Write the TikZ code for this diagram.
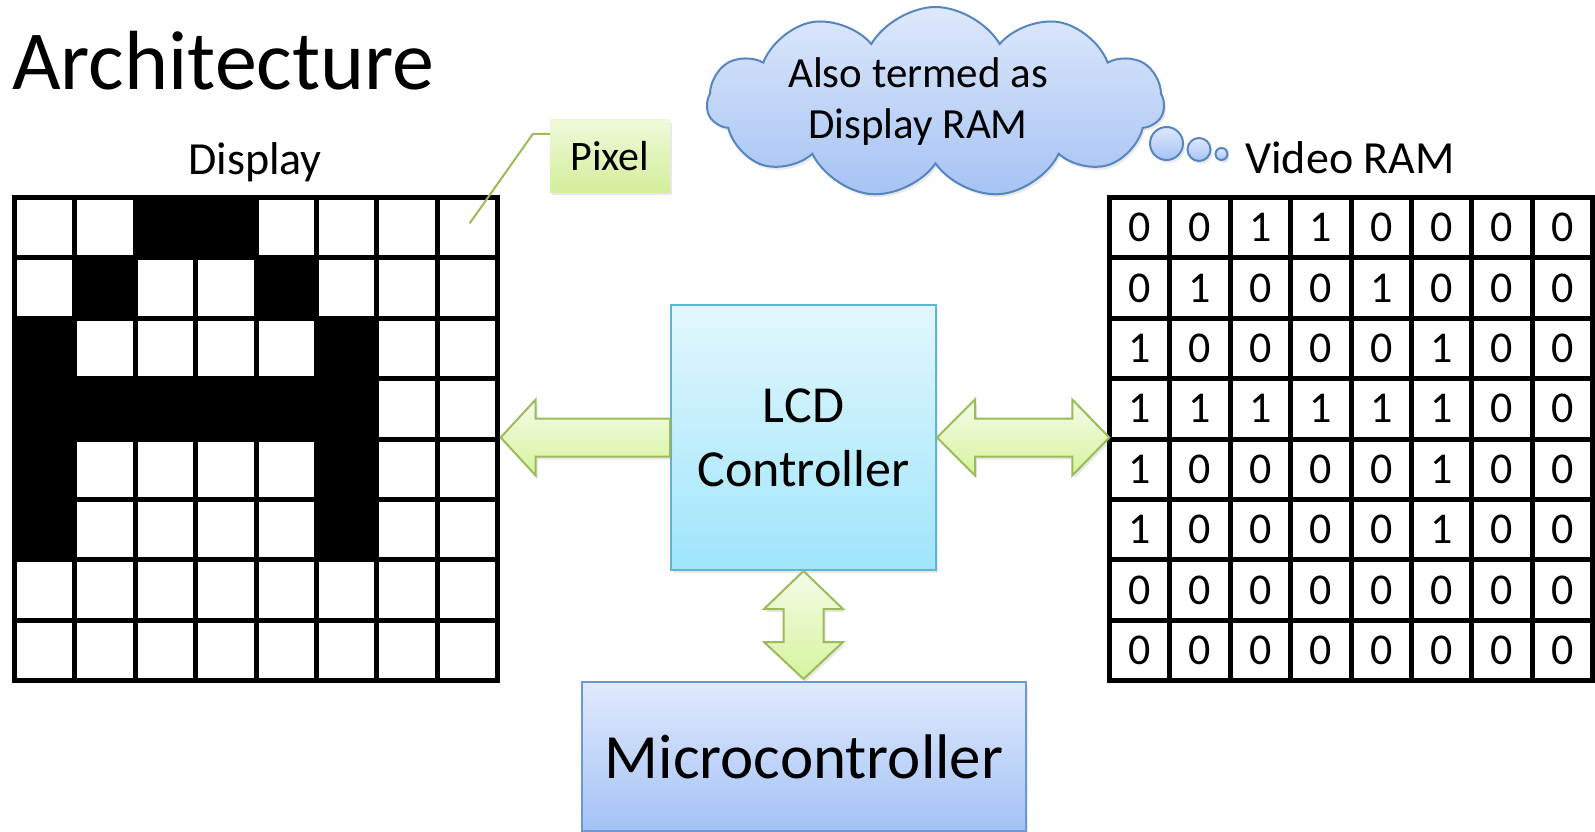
\documentclass[tikz,border=0pt]{standalone}
\usepackage{fontspec}
\setmainfont{Carlito}
\usetikzlibrary{shapes.symbols,calc,shadows}
\definecolor{lcdtop}{HTML}{E3F7FD}
\definecolor{lcdbot}{HTML}{9FE5FB}
\definecolor{lcdline}{HTML}{5BB7D4}
\definecolor{mctop}{HTML}{E0EAFC}
\definecolor{mcbot}{HTML}{A4C2F6}
\definecolor{mcline}{HTML}{6F97D3}
\definecolor{artop}{HTML}{F5FBE9}
\definecolor{arbot}{HTML}{D6F49C}
\definecolor{arline}{HTML}{9BBB59}
\definecolor{cltop}{HTML}{DDE8FB}
\definecolor{clbot}{HTML}{A6C3F4}
\definecolor{clline}{HTML}{5686C2}
\definecolor{pxtop}{HTML}{EFF9D9}
\definecolor{pxbot}{HTML}{D4EE9C}
\tikzset{
  softshadow/.style={drop shadow={opacity=0.18, shadow xshift=2pt, shadow yshift=-3pt}},
  gridline/.style={line width=5pt, line cap=rect, black},
  digit/.style={inner sep=0pt, font=\fontsize{44}{48}\selectfont},
  blockarrow/.style={draw=arline, line width=2pt, line join=miter, top color=artop, bottom color=arbot, softshadow},
  lcdbox/.style={draw=lcdline, line width=2pt, top color=lcdtop, bottom color=lcdbot, softshadow,
     minimum width=265pt, minimum height=265pt, inner sep=0pt, align=center, font=\fontsize{52}{64}\selectfont},
  mcbox/.style={draw=mcline, line width=2pt, top color=mctop, bottom color=mcbot, softshadow,
     minimum width=444pt, minimum height=149pt, inner sep=0pt, font=\fontsize{63}{70}\selectfont},
  pixbox/.style={top color=pxtop, bottom color=pxbot, softshadow, minimum width=120pt, minimum height=72pt,
     inner sep=0pt, font=\fontsize{42}{48}\selectfont},
  cloudbox/.style={cloud, cloud puffs=11, cloud puff arc=120, aspect=2.4, minimum width=457pt, minimum height=191pt,
     inner sep=0pt, draw=clline, line width=2pt, top color=cltop, bottom color=clbot, softshadow},
  bubble/.style={circle, inner sep=0pt, draw=clline, line width=2pt, top color=cltop, bottom color=clbot, softshadow},
  label/.style={inner sep=0pt, font=\fontsize{46}{50}\selectfont},
}
\begin{document}
\begin{tikzpicture}[x=1pt,y=-1pt]
\useasboundingbox (0,0) rectangle (1595,832);

% title
\node[inner sep=0pt, anchor=base west, font=\fontsize{84}{100}\selectfont] (title) at (12,90) {Architecture};

% display grid
\node[minimum width=483pt, minimum height=483pt, inner sep=0pt] (disp) at (256,439) {};
\foreach \r/\c in {0/2,0/3,1/1,1/4,2/0,2/5,3/0,3/1,3/2,3/3,3/4,3/5,4/0,4/5,5/0,5/5}
  \fill ({14.5+\c*60.375},{197.5+\r*60.375}) rectangle ++(60.375,60.375);
\foreach \i in {0,...,8} {
  \draw[gridline] ({14.5+\i*60.375},197.5) -- ({14.5+\i*60.375},680.5);
  \draw[gridline] (14.5,{197.5+\i*60.375}) -- (497.5,{197.5+\i*60.375});
}
\node[label, anchor=base] (displbl) at (255,175) {Display};

% video RAM grid
\node[minimum width=483pt, minimum height=483pt, inner sep=0pt] (vram) at (1351,439) {};
\foreach \i in {0,...,8} {
  \draw[gridline] ({1109.5+\i*60.375},197.5) -- ({1109.5+\i*60.375},680.5);
  \draw[gridline] (1109.5,{197.5+\i*60.375}) -- (1592.5,{197.5+\i*60.375});
}
\foreach \row [count=\r from 0] in {{0,0,1,1,0,0,0,0},{0,1,0,0,1,0,0,0},{1,0,0,0,0,1,0,0},{1,1,1,1,1,1,0,0},{1,0,0,0,0,1,0,0},{1,0,0,0,0,1,0,0},{0,0,0,0,0,0,0,0},{0,0,0,0,0,0,0,0}}
  \foreach \d [count=\c from 0] in \row
    \node[digit] (v\r\c) at ({1109.5+(\c+0.5)*60.375},{197.5+(\r+0.5)*60.375}) {\d};
\node[label, anchor=base] (vramlbl) at (1350,173) {Video RAM};

% cloud
\node[cloudbox] (cld) at (935.5,102.5) {};
\node[inner sep=0pt, align=center, font=\fontsize{43}{51}\selectfont] (cldtxt) at (918,101.5) {Also termed as\\Display RAM};
\node[bubble, minimum size=33pt] (b1) at (1166.5,143.5) {};
\node[bubble, minimum size=23pt] (b2) at (1199,149.5) {};
\node[bubble, minimum size=12pt] (b3) at (1221.5,154) {};

% pixel callout
\node[pixbox] (pixel) at (610,156) {Pixel};
\coordinate (pixtip) at ($(disp.north east)+(-28,26)$);
\draw[arline, line width=2pt] ($(pixel.west)+(0,-22)$) -- ++(-17,0) -- (pixtip);

% boxes
\node[lcdbox] (lcd) at (803.5,437.5) {LCD\\Controller};
\node[mcbox] (mc) at (804,756.5) {Microcontroller};

% arrows
\path[blockarrow] ($(disp.east |- lcd.west)+(3,0)$) -- ++(35,-38) -- ++(0,19) -- ($(lcd.west)+(0,-19)$)
   -- ($(lcd.west)+(0,19)$) -- ($(disp.east |- lcd.west)+(38,19)$) -- ++(0,19) -- cycle;
\path[blockarrow] (lcd.east) -- ++(38,-38) -- ++(0,19) -- ($(vram.west |- lcd.east)+(-37,-19)$) -- ++(0,-19)
   -- (vram.west |- lcd.east) -- ++(-37,38) -- ++(0,-19) -- ($(lcd.east)+(38,19)$) -- ++(0,19) -- cycle;
\path[blockarrow] (lcd.south) -- ++(39.5,38) -- ++(-19.5,0) -- ($(lcd.south |- mc.north)+(20,-39)$) -- ++(19.5,0)
   -- ($(lcd.south |- mc.north)+(0,-2)$) -- ++(-39.5,-37) -- ++(19.5,0) -- ($(lcd.south)+(-20,38)$) -- ++(-19.5,0) -- cycle;
\end{tikzpicture}
\end{document}
